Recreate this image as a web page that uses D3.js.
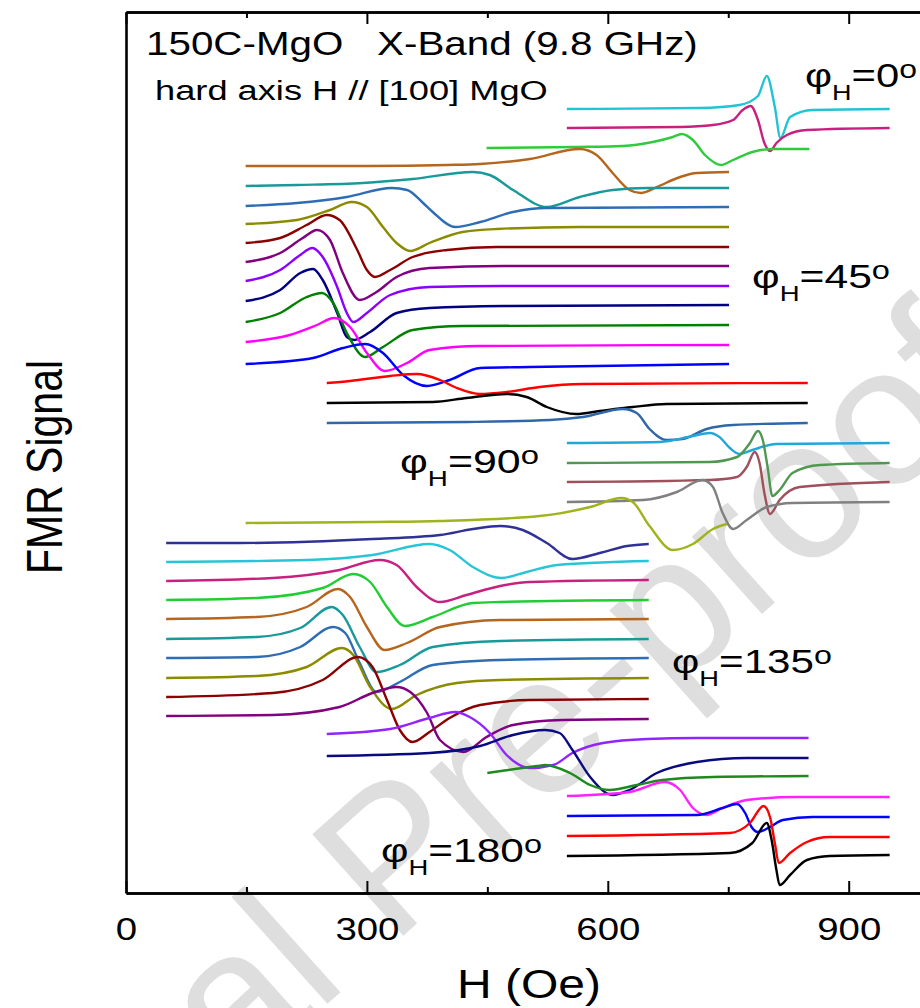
<!DOCTYPE html>
<html>
<head>
<meta charset="utf-8">
<script src="https://cdnjs.cloudflare.com/ajax/libs/d3/7.8.5/d3.min.js"></script>
<style>
  body { margin: 0; background: #fff; }
  svg text { font-family: "Liberation Sans", Arial, sans-serif; fill: #000; }
</style>
</head>
<body>
<svg id="chart" width="920" height="1008"></svg>
<script>
// field axis (Oe)
var fieldTicks = [0, 300, 600, 900];
var fieldMinorTicks = [150, 450, 750];
var angleLabels = ["0", "45", "90", "135", "180"];

// spectra: [H (Oe), signal relative to baseline (a.u.)], baseline offsets in a.u.
var g0Colors = ["#22c3d3", "#c8207f", "#2fcb3c", "#b5651d"];
var g0Offsets = [784, 765, 745, 727];
var g0Spectra = [
  [[549,0],[715,1],[764,4],[787,13],[798,33],[808,2],[815,-29],[827,-8],[855,-1],[951,0]],
  [[549,0],[690,1],[731,3],[756,8],[768,18],[778,22],[787,8],[795,-15],[802,-23],[810,-15],[823,-7],[848,-2],[951,0]],
  [[449,0],[560,1],[619,2],[656,6],[681,11],[692,14],[706,8],[721,-7],[741,-17],[756,-12],[780,-4],[805,-1],[851,-1]],
  [[149,0],[300,0],[400,1],[441,2],[503,7],[565,17],[586,11],[606,-7],[627,-24],[641,-27],[661,-21],[690,-11],[711,-7],[751,-6]]
];

var g45Colors = ["#199a9a", "#2e6db4", "#8b8b00", "#8b0000", "#800080", "#8b00ff", "#000080", "#008000", "#ff00ff", "#0000ff"];
var g45Offsets = [707, 687, 669, 650, 631, 612, 592, 571, 551, 529];
var g45Spectra = [
  [[149,0],[213,1],[295,3],[357,7],[432,14],[453,11],[482,-4],[524,-21],[565,-11],[606,-4],[649,-2],[751,-2]],
  [[149,0],[213,3],[275,9],[331,18],[350,16],[370,3],[382,-6],[410,-21],[441,-16],[482,-6],[524,-2],[751,-1]],
  [[149,0],[213,4],[254,14],[281,22],[300,17],[320,-3],[337,-19],[354,-27],[378,-19],[419,-8],[462,-5],[565,-3],[751,-3]],
  [[149,0],[192,5],[225,18],[250,28],[266,23],[288,-7],[300,-27],[310,-34],[329,-27],[357,-14],[400,-7],[462,-4],[751,-4]],
  [[149,0],[192,9],[220,24],[238,32],[254,22],[270,-11],[291,-38],[312,-30],[337,-15],[378,-6],[470,-4],[751,-4]],
  [[149,0],[192,11],[217,26],[232,33],[245,24],[263,-6],[275,-32],[283,-41],[300,-32],[329,-14],[378,-6],[470,-5],[751,-5]],
  [[149,0],[192,11],[217,28],[233,32],[245,21],[263,-12],[275,-36],[284,-39],[304,-31],[337,-12],[378,-7],[470,-5],[751,-4]],
  [[149,0],[192,9],[225,25],[244,29],[258,19],[275,-11],[298,-35],[320,-25],[357,-8],[419,-4],[751,-3]],
  [[149,0],[204,7],[238,17],[259,24],[279,15],[300,-11],[322,-29],[350,-21],[378,-8],[441,-4],[751,-3]],
  [[149,0],[233,6],[270,16],[298,20],[320,11],[345,-11],[375,-22],[403,-16],[441,-4],[503,-3],[751,0]]
];

var g90Colors = ["#ff0000", "#000000", "#2f67a8", "#22a8d8", "#509850", "#a0505a", "#808080", "#a0b31c"];
var g90Offsets = [510, 490, 470, 450, 430, 411, 391, 370];
var g90Spectra = [
  [[250,0],[279,2],[329,7],[362,9],[391,3],[412,-5],[441,-11],[474,-9],[515,-4],[569,-1],[849,0]],
  [[250,0],[382,1],[424,5],[474,9],[499,6],[524,-4],[561,-11],[590,-8],[631,-4],[673,-1],[849,0]],
  [[250,0],[424,1],[528,3],[569,6],[619,14],[636,10],[652,-6],[673,-17],[693,-16],[723,-6],[756,-2],[849,0]],
  [[549,0],[665,1],[706,7],[727,10],[739,6],[752,-5],[764,-11],[780,-7],[810,-1],[951,0]],
  [[549,0],[727,1],[761,6],[777,20],[787,32],[793,23],[799,-4],[805,-33],[814,-27],[830,-10],[864,-2],[951,0]],
  [[549,0],[727,2],[761,5],[773,15],[783,30],[789,19],[795,-11],[802,-32],[814,-18],[839,-5],[951,0]],
  [[549,0],[644,2],[686,10],[718,22],[731,15],[743,-11],[756,-27],[773,-18],[798,-5],[830,-1],[951,0]],
  [[149,0],[307,1],[391,2],[515,7],[578,16],[617,25],[631,21],[652,-3],[681,-27],[706,-21],[731,-6],[748,-1]]
];

var g135Colors = ["#2f3196", "#28c4d8", "#c8207f", "#22cc33", "#b5651d", "#199a9a", "#2e6db4", "#8b8b00", "#8b0000", "#800080"];
var g135Offsets = [350, 331, 312, 293, 274, 254, 235, 215, 196, 177];
var g135Spectra = [
  [[50,0],[142,0],[307,4],[391,8],[432,14],[466,17],[494,13],[524,0],[556,-16],[590,-10],[624,-3],[651,-1]],
  [[50,0],[226,2],[307,7],[378,18],[403,12],[432,-5],[468,-16],[499,-10],[537,-3],[651,1]],
  [[50,0],[183,3],[266,11],[316,21],[337,16],[362,-6],[391,-21],[424,-14],[466,-5],[503,-1],[651,1]],
  [[50,0],[163,2],[245,12],[283,26],[304,18],[325,-7],[347,-26],[382,-17],[432,-3],[466,-2],[651,0]],
  [[50,0],[163,2],[225,12],[264,30],[279,22],[300,-8],[322,-31],[350,-24],[391,-8],[466,-1],[651,0]],
  [[50,0],[163,2],[217,11],[256,32],[270,24],[291,-8],[312,-33],[341,-26],[382,-8],[466,-2],[651,0]],
  [[50,0],[163,1],[217,11],[258,31],[273,25],[291,-5],[312,-34],[341,-24],[382,-7],[466,-2],[651,0]],
  [[50,0],[163,2],[225,11],[269,30],[283,23],[304,-9],[331,-31],[362,-17],[412,-5],[466,-2],[651,0]],
  [[50,0],[183,4],[245,17],[289,40],[307,30],[325,-3],[341,-33],[357,-45],[378,-35],[403,-21],[441,-8],[503,-3],[651,-2]],
  [[50,0],[183,1],[266,9],[307,23],[337,29],[354,24],[375,3],[391,-24],[420,-36],[449,-21],[482,-9],[544,-4],[651,-3]]
];

var g180Colors = ["#9124ff", "#0a0a80", "#1e8a1e", "#ff22ff", "#0000ff", "#ff0000", "#000000"];
var g180Offsets = [159, 137, 120, 97, 77, 57, 37];
var g180Spectra = [
  [[250,0],[329,5],[378,16],[410,22],[428,17],[453,1],[474,-21],[503,-34],[532,-31],[556,-19],[594,-9],[649,-5],[711,-4],[850,-4]],
  [[250,0],[378,3],[441,10],[482,21],[522,26],[540,23],[556,6],[578,-21],[606,-39],[627,-34],[661,-17],[711,-6],[773,-2],[850,-2]],
  [[450,0],[512,7],[522,8],[553,0],[578,-12],[602,-17],[636,-12],[668,-7],[731,-4],[850,-3]],
  [[549,0],[627,4],[671,14],[690,6],[706,-12],[723,-19],[743,-12],[773,-4],[835,-1],[951,-1]],
  [[549,0],[711,1],[743,8],[761,12],[771,3],[779,-11],[787,-16],[802,-11],[818,-4],[855,-1],[951,-1]],
  [[549,0],[752,3],[777,13],[794,30],[802,19],[808,-7],[813,-27],[827,-17],[848,-6],[876,-1],[951,-1]],
  [[549,0],[752,3],[780,13],[798,33],[804,16],[810,-14],[814,-29],[827,-19],[848,-4],[876,0],[951,1]]
];

var groups = [
  {colors: g0Colors, offsets: g0Offsets, spectra: g0Spectra},
  {colors: g45Colors, offsets: g45Offsets, spectra: g45Spectra},
  {colors: g90Colors, offsets: g90Offsets, spectra: g90Spectra},
  {colors: g135Colors, offsets: g135Offsets, spectra: g135Spectra},
  {colors: g180Colors, offsets: g180Offsets, spectra: g180Spectra}
];

var svg = d3.select("#chart");
var x = d3.scaleLinear().domain([0, 1000]).range([126, 929]);
var y = d3.scaleLinear().domain([0, 881]).range([893, 12]);

// watermark
svg.append("text")
  .attr("transform", "translate(-133,1417) rotate(-41.9)")
  .attr("font-size", 198)
  .style("fill", "#dedede")
  .text("Journal Pre-proof");

var line = d3.line()
  .x(function(d) { return x(d[0]); })
  .y(function(d) { return y(d[1]); })
  .curve(d3.curveMonotoneX);

var curves = svg.append("g").attr("fill", "none").attr("stroke-width", 2.4).attr("stroke-linejoin", "round");
groups.forEach(function(g) {
  for (var i = 0; i < g.spectra.length; i++) {
    var off = g.offsets[i];
    var pts = g.spectra[i].map(function(p) { return [p[0], off + p[1]]; });
    curves.append("path")
      .attr("d", line(pts))
      .attr("stroke", g.colors[i]);
  }
});

// frame + ticks
function styleAxis(a) {
  a.select(".domain").attr("stroke-width", 2.6);
  a.selectAll(".tick line").attr("stroke-width", 2);
}
var bottom = svg.append("g").attr("transform", "translate(0,893)")
  .call(d3.axisBottom(x).tickValues(fieldTicks).tickSize(-12).tickSizeOuter(0));
styleAxis(bottom);
bottom.selectAll("text")
  .attr("y", 47).attr("dy", 0)
  .attr("font-size", 32)
  .attr("font-family", "Liberation Sans, Arial, sans-serif")
  .attr("transform", "scale(1.2,1)")
  .attr("x", function(d) { return 0; });
// keep labels centered on ticks under the scale
bottom.selectAll(".tick text").attr("transform", null)
  .each(function() {
    var t = d3.select(this);
    t.attr("transform", "scale(1.2,1)");
  });
svg.append("g").attr("transform", "translate(0,893)")
  .call(d3.axisBottom(x).tickValues(fieldMinorTicks).tickSize(-6).tickSizeOuter(0).tickFormat(""))
  .call(styleAxis);
svg.append("g").attr("transform", "translate(0,12)")
  .call(d3.axisTop(x).tickValues(fieldTicks).tickSize(-12).tickSizeOuter(0).tickFormat(""))
  .call(styleAxis);
svg.append("g").attr("transform", "translate(0,12)")
  .call(d3.axisTop(x).tickValues(fieldMinorTicks).tickSize(-6).tickSizeOuter(0).tickFormat(""))
  .call(styleAxis);
svg.append("g").attr("transform", "translate(126,0)")
  .call(d3.axisLeft(y).tickValues([]).tickSizeOuter(0))
  .call(styleAxis);

// text, horizontally stretched like the original figure
function placeText(sel, px, py, width) {
  var w = sel.node().getComputedTextLength();
  sel.attr("transform", "translate(" + px + "," + py + ") scale(" + (width / w) + ",1)");
}

var t1 = svg.append("text").attr("font-size", 33).style("white-space", "pre").text("150C-MgO   X-Band (9.8 GHz)");
placeText(t1, 146, 55, 552);
var t2 = svg.append("text").attr("font-size", 28).text("hard axis H // [100] MgO");
placeText(t2, 155, 100, 393);

var labelPos = [[805, 87, 112], [752, 288, 138], [400, 473, 139], [672, 673, 160], [381, 862, 161]];
angleLabels.forEach(function(a, i) {
  var t = svg.append("text").attr("font-size", 34);
  t.append("tspan").text("\u03c6");
  t.append("tspan").attr("font-size", 22).attr("dy", 13).text("H");
  t.append("tspan").attr("dy", -13).text("=" + a);
  t.append("tspan").attr("font-size", 26).attr("dy", -9).text("o");
  placeText(t, labelPos[i][0], labelPos[i][1], labelPos[i][2]);
});

var xl = svg.append("text").attr("font-size", 40).attr("text-anchor", "middle").text("H (Oe)");
xl.attr("transform", "translate(529,998) scale(1.2,1)");

var yl = svg.append("text").attr("font-size", 41).attr("text-anchor", "middle").text("FMR Signal");
yl.attr("transform", "translate(62,467) scale(1.2,1) rotate(-90)");
</script>
</body>
</html>
